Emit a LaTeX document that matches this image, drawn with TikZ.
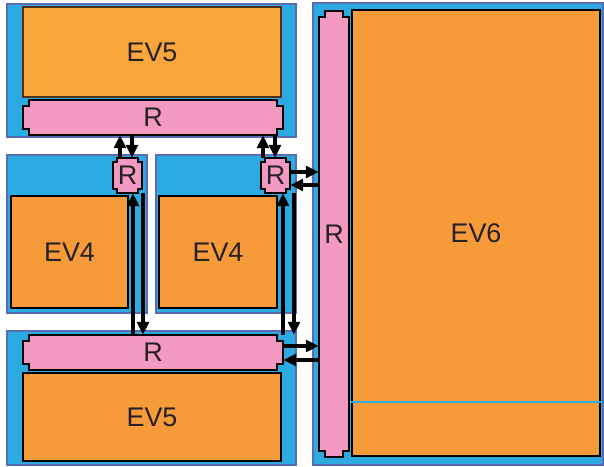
\documentclass[tikz,border=0pt]{standalone}
\usepackage{fontspec}
\setmainfont{Liberation Sans}
\usetikzlibrary{arrows.meta}
\definecolor{chipblue}{HTML}{2CAAE2}
\definecolor{chipedge}{HTML}{5B6BB4}
\definecolor{corelight}{HTML}{F9A63D}
\definecolor{coreorange}{HTML}{F69A3A}
\definecolor{padpink}{HTML}{F49AC2}
\definecolor{ink}{HTML}{262223}
\def\px{0.03cm}
\tikzset{
  every picture/.style={line join=miter, >=Stealth},
  chip/.style={fill=chipblue, draw=chipedge, line width=2pt},
  core/.style={fill=coreorange, draw=black, line width=1.2pt, inner sep=0pt},
  padfill/.style={fill=padpink, draw=black, line width=1pt},
  padtext/.style={inner sep=0pt},
  link/.style={line width=3.2pt, -{Triangle[length=11pt,width=10pt]}},
  lbl/.style={text=ink, font=\fontsize{23}{27}\selectfont},
}
% R pad: name, centre x, centre y, width, height, notch (pixel units)
\newcommand\rpad[6]{%
  \draw[padfill] ({#2-#4/2+#6},{#3-#5/2}) -- ({#2+#4/2-#6},{#3-#5/2})
    -- ({#2+#4/2-#6},{#3-#5/2+#6}) -- ({#2+#4/2},{#3-#5/2+#6})
    -- ({#2+#4/2},{#3+#5/2-#6}) -- ({#2+#4/2-#6},{#3+#5/2-#6})
    -- ({#2+#4/2-#6},{#3+#5/2}) -- ({#2-#4/2+#6},{#3+#5/2})
    -- ({#2-#4/2+#6},{#3+#5/2-#6}) -- ({#2-#4/2},{#3+#5/2-#6})
    -- ({#2-#4/2},{#3-#5/2+#6}) -- ({#2-#4/2+#6},{#3-#5/2+#6}) -- cycle;
  \node[padtext, lbl, minimum width=#4*\px, minimum height=#5*\px] (#1) at (#2,#3) {R};}

\begin{document}
\begin{tikzpicture}[x=0.03cm, y=-0.03cm]
\useasboundingbox (0,0) rectangle (604,467);
% chips
\draw[chip] (7,4) rectangle (296,137);
\draw[chip] (7,155) rectangle (147,313);
\draw[chip] (156,155) rectangle (296,313);
\draw[chip] (7,331) rectangle (296,465);
\draw[chip] (313,3) rectangle (603,465);
% cores
\node[core, lbl, fill=corelight, draw=black!60!brown, minimum width=258*\px, minimum height=90*\px] (ev5t) at (152,52) {EV5};
\node[core, lbl, minimum width=117*\px, minimum height=112*\px] (ev4l) at (69.5,252) {EV4};
\node[core, lbl, minimum width=118*\px, minimum height=112*\px] (ev4m) at (218,252) {EV4};
\node[core, lbl, minimum width=258*\px, minimum height=88*\px] (ev5b) at (152,417) {EV5};
\node[core, lbl, minimum width=248*\px, minimum height=446*\px] (ev6) at (476,233) {EV6};
\draw[chipblue, line width=1pt] (ev6.west |- 0,402) -- (ev6.east |- 0,402);
% routers
\rpad{rtop}{153}{117.5}{260}{35}{6}
\rpad{rsl}{127.5}{175.5}{29}{35}{4}
\rpad{rsm}{275.5}{175.5}{29}{35}{4}
\rpad{rbot}{153}{352.5}{260}{35}{6}
\rpad{rv}{334}{234}{30}{446}{6}
% links
\draw[link] (rsl.north -| 120,0) -- (rtop.south -| 120,0);
\draw[link] (rtop.south -| 132,0) -- (rsl.north -| 132,0);
\draw[link] (rsm.north -| 263,0) -- (rtop.south -| 263,0);
\draw[link] (rtop.south -| 275,0) -- (rsm.north -| 275,0);
\draw[link] (rsm.east |- 0,172) -- (rv.west |- 0,172);
\draw[link] (rv.west |- 0,185) -- (rsm.east |- 0,185);
\draw[link] (rbot.east |- 0,346) -- (rv.west |- 0,346);
\draw[link] (rv.west |- 0,360) -- (rbot.east |- 0,360);
\draw[link] (rbot.north -| 133,0) -- (rsl.south -| 133,0);
\draw[link] (rsl.south -| 143,0) -- (rbot.north -| 143,0);
\draw[link] (rbot.north -| 283,0) -- (rsm.south -| 283,0);
\draw[link] (rsm.south -| 294,0) -- (rbot.north -| 294,0);
\end{tikzpicture}
\end{document}
